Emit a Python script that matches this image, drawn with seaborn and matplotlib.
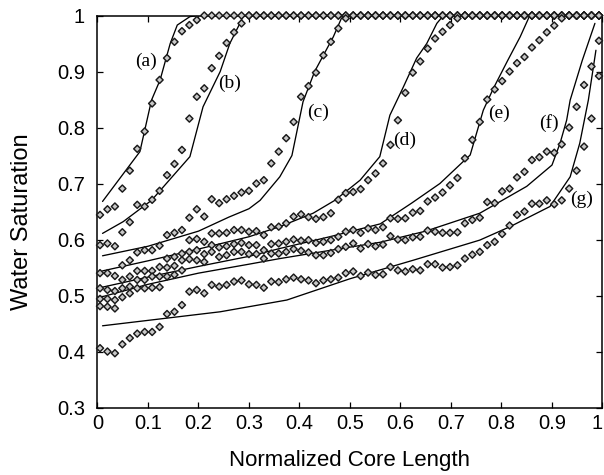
import numpy as np
import pandas as pd
import matplotlib
matplotlib.use("Agg")
import matplotlib.pyplot as plt
import seaborn as sns

# Measured water saturation profiles (diamonds), sampled along the core
n_pts = 68
core_pos = np.linspace(0.005, 0.993, n_pts)

sw_a = [0.644, 0.654, 0.659, 0.691, 0.723, 0.762, 0.793, 0.843, 0.885, 0.924,
        0.953, 0.972, 0.983, 0.992] + [1.0] * 54
sw_b = [0.590, 0.593, 0.588, 0.613, 0.631, 0.662, 0.659, 0.671, 0.687, 0.715,
        0.735, 0.760, 0.816, 0.855, 0.870, 0.906, 0.928, 0.951, 0.970, 0.986] + [1.0] * 48
sw_c = [0.540, 0.540, 0.535, 0.554, 0.563, 0.577, 0.581, 0.581, 0.589, 0.608,
        0.612, 0.617, 0.639, 0.654, 0.641, 0.672, 0.665, 0.672, 0.678, 0.684,
        0.687, 0.700, 0.706, 0.736, 0.757, 0.781, 0.810, 0.855, 0.874, 0.898,
        0.929, 0.953, 0.977, 0.995] + [1.0] * 34
sw_d = [0.513, 0.510, 0.508, 0.528, 0.534, 0.544, 0.544, 0.544, 0.551, 0.566,
        0.569, 0.575, 0.599, 0.601, 0.596, 0.611, 0.611, 0.612, 0.617, 0.617,
        0.614, 0.615, 0.608, 0.622, 0.623, 0.629, 0.641, 0.645, 0.640, 0.637,
        0.640, 0.647, 0.671, 0.683, 0.685, 0.690, 0.706, 0.718, 0.736, 0.769,
        0.813, 0.862, 0.898, 0.918, 0.941, 0.959, 0.971, 0.983, 0.995] + [1.0] * 19
sw_e = [0.494, 0.494, 0.492, 0.513, 0.516, 0.528, 0.528, 0.534, 0.534, 0.550,
        0.553, 0.563, 0.578, 0.581, 0.574, 0.590, 0.586, 0.588, 0.592, 0.594,
        0.590, 0.590, 0.581, 0.592, 0.593, 0.596, 0.600, 0.598, 0.599, 0.594,
        0.596, 0.599, 0.605, 0.614, 0.617, 0.612, 0.620, 0.617, 0.622, 0.638,
        0.637, 0.638, 0.648, 0.651, 0.668, 0.675, 0.684, 0.697, 0.710, 0.745,
        0.778, 0.810, 0.850, 0.868, 0.883, 0.900, 0.915, 0.926, 0.943, 0.956,
        0.970, 0.982, 0.995, 1.0, 1.0, 1.0, 1.0, 1.0]
sw_f = [0.481, 0.480, 0.477, 0.497, 0.504, 0.513, 0.513, 0.514, 0.515, 0.534,
        0.537, 0.545, 0.565, 0.563, 0.560, 0.578, 0.569, 0.572, 0.578, 0.578,
        0.574, 0.574, 0.566, 0.575, 0.575, 0.578, 0.583, 0.580, 0.577, 0.572,
        0.572, 0.576, 0.583, 0.587, 0.593, 0.584, 0.592, 0.588, 0.591, 0.606,
        0.600, 0.599, 0.604, 0.605, 0.616, 0.614, 0.612, 0.612, 0.613, 0.629,
        0.635, 0.639, 0.667, 0.665, 0.686, 0.691, 0.711, 0.721, 0.742, 0.747,
        0.757, 0.755, 0.770, 0.800, 0.837, 0.876, 0.909, 0.955]
sw_g = [0.406, 0.400, 0.397, 0.413, 0.424, 0.432, 0.435, 0.435, 0.444, 0.467,
        0.471, 0.483, 0.507, 0.510, 0.504, 0.519, 0.516, 0.519, 0.525, 0.527,
        0.520, 0.519, 0.514, 0.525, 0.524, 0.529, 0.532, 0.529, 0.527, 0.522,
        0.527, 0.529, 0.532, 0.540, 0.543, 0.535, 0.541, 0.537, 0.538, 0.551,
        0.545, 0.543, 0.547, 0.545, 0.556, 0.556, 0.550, 0.551, 0.554, 0.566,
        0.573, 0.578, 0.590, 0.596, 0.610, 0.625, 0.644, 0.650, 0.664, 0.664,
        0.670, 0.663, 0.670, 0.691, 0.723, 0.766, 0.816, 0.892]

# Simulated profiles (solid lines)
sim_a_x = [0.01, 0.084, 0.107, 0.124, 0.144, 0.158, 0.183, 0.20, 1.0]
sim_a_y = [0.668, 0.757, 0.849, 0.885, 0.950, 0.983, 0.998, 1.0, 1.0]
sim_b_x = [0.01, 0.051, 0.107, 0.183, 0.209, 0.243, 0.262, 0.282, 0.289, 1.0]
sim_b_y = [0.611, 0.632, 0.670, 0.748, 0.837, 0.900, 0.950, 0.986, 1.0, 1.0]
sim_c_x = [0.01, 0.10, 0.20, 0.26, 0.30, 0.322, 0.361, 0.385, 0.407, 0.43, 0.467, 0.483, 0.49, 1.0]
sim_c_y = [0.571, 0.588, 0.615, 0.640, 0.655, 0.670, 0.712, 0.750, 0.846, 0.900, 0.962, 0.995, 1.0, 1.0]
sim_d_x = [0.01, 0.10, 0.20, 0.30, 0.361, 0.427, 0.47, 0.52, 0.559, 0.579, 0.606, 0.632, 0.652, 0.672, 0.685, 1.0]
sim_d_y = [0.544, 0.562, 0.583, 0.605, 0.623, 0.647, 0.670, 0.706, 0.748, 0.822, 0.873, 0.924, 0.950, 0.986, 1.0, 1.0]
sim_e_x = [0.01, 0.10, 0.20, 0.30, 0.361, 0.46, 0.56, 0.622, 0.678, 0.738, 0.764, 0.784, 0.813, 0.837, 0.856, 1.0]
sim_e_y = [0.515, 0.533, 0.552, 0.570, 0.584, 0.605, 0.628, 0.665, 0.700, 0.751, 0.831, 0.870, 0.921, 0.962, 1.0, 1.0]
sim_f_x = [0.01, 0.10, 0.20, 0.30, 0.361, 0.49, 0.559, 0.65, 0.757, 0.85, 0.90, 0.916, 0.929, 0.936, 0.96, 0.985]
sim_f_y = [0.498, 0.520, 0.540, 0.556, 0.566, 0.585, 0.595, 0.615, 0.647, 0.695, 0.733, 0.772, 0.813, 0.849, 0.920, 0.986]
sim_g_x = [0.01, 0.243, 0.375, 0.50, 0.625, 0.757, 0.817, 0.896, 0.936, 0.955, 0.972, 0.987]
sim_g_y = [0.446, 0.471, 0.492, 0.530, 0.563, 0.599, 0.623, 0.659, 0.712, 0.772, 0.849, 0.938]

case_names = ["a", "b", "c", "d", "e", "f", "g"]
measured = [sw_a, sw_b, sw_c, sw_d, sw_e, sw_f, sw_g]
sim_x = [sim_a_x, sim_b_x, sim_c_x, sim_d_x, sim_e_x, sim_f_x, sim_g_x]
sim_y = [sim_a_y, sim_b_y, sim_c_y, sim_d_y, sim_e_y, sim_f_y, sim_g_y]

# Label anchor points for each case
label_x = [0.096, 0.262, 0.436, 0.609, 0.796, 0.894, 0.959]
label_y = [0.919, 0.879, 0.828, 0.778, 0.825, 0.808, 0.671]

x_ticks = [0, 0.1, 0.2, 0.3, 0.4, 0.5, 0.6, 0.7, 0.8, 0.9, 1.0]
x_tick_labels = ["0", "0.1", "0.2", "0.3", "0.4", "0.5", "0.6", "0.7", "0.8", "0.9", "1"]
y_ticks = [0.3, 0.4, 0.5, 0.6, 0.7, 0.8, 0.9, 1.0]
y_tick_labels = ["0.3", "0.4", "0.5", "0.6", "0.7", "0.8", "0.9", "1"]

meas_df = pd.concat(
    [pd.DataFrame({"pos": core_pos, "sw": vals, "case": name})
     for name, vals in zip(case_names, measured)],
    ignore_index=True)
sim_df = pd.concat(
    [pd.DataFrame({"pos": xs, "sw": ys, "case": name})
     for name, xs, ys in zip(case_names, sim_x, sim_y)],
    ignore_index=True)

sns.set_theme(style="ticks")
plt.rcParams["font.family"] = ["Liberation Sans", "DejaVu Sans"]

fig = plt.figure(figsize=(6.04, 4.75), dpi=100)
ax = fig.add_axes([0.1614, 0.142, 0.8361, 0.8253])

black = {name: "black" for name in case_names}
sns.lineplot(data=sim_df, x="pos", y="sw", hue="case", palette=black,
             estimator=None, sort=False, linewidth=0.95, legend=False, ax=ax)
sns.scatterplot(data=meas_df, x="pos", y="sw", hue="case",
                palette={name: "#c8c8c8" for name in case_names},
                marker="D", s=13, edgecolor="#1a1a1a", linewidth=1.05,
                legend=False, ax=ax, clip_on=False, zorder=3)

for name, lx, ly in zip(case_names, label_x, label_y):
    ax.text(lx, ly, f"({name})", ha="center", va="center",
            fontsize=14, family="Liberation Serif", color="black")

ax.set_xlim(0, 1)
ax.set_ylim(0.3, 1.0)
ax.set_xticks(x_ticks)
ax.set_xticklabels(x_tick_labels)
ax.set_yticks(y_ticks)
ax.set_yticklabels(y_tick_labels)
ax.tick_params(direction="in", length=4.5, width=0.9, top=True, right=True,
               labelsize=14.5, colors="black")
ax.tick_params(axis="x", pad=5)
ax.tick_params(axis="y", pad=9)
# keep the end label inside the figure edge
ax.get_xticklabels()[-1].set_horizontalalignment("right")
for sp in ax.spines.values():
    sp.set_linewidth(1.1)
    sp.set_color("black")

ax.set_xlabel("Normalized Core Length", fontsize=16, color="black")
ax.set_ylabel("Water Saturation", fontsize=17, color="black")
ax.xaxis.set_label_coords(0.5, -0.108)
ax.yaxis.set_label_coords(-0.128, 0.473)

fig.savefig("out.png", dpi=100)
